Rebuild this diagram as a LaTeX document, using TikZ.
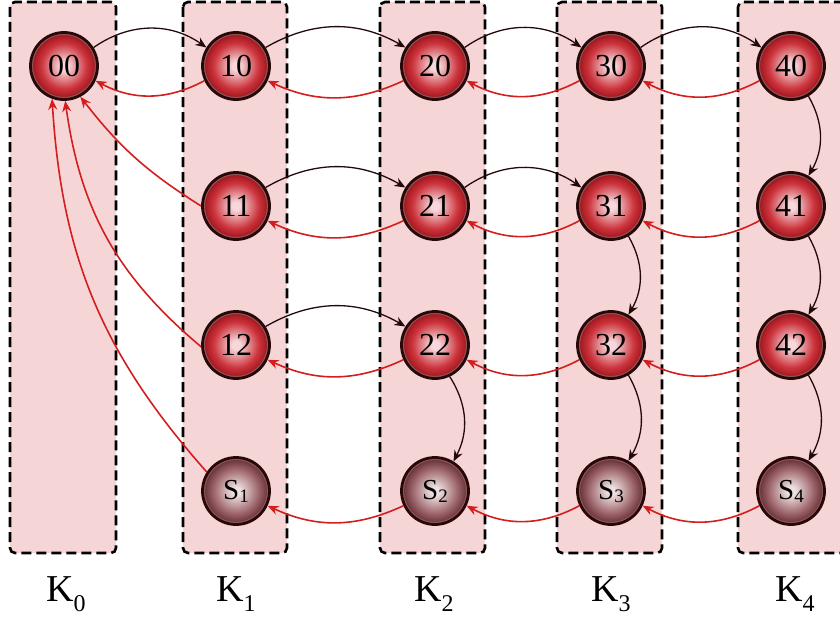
\documentclass[tikz,border=0pt]{standalone}
\usepackage{fontspec}
\setmainfont{Liberation Serif}
\usetikzlibrary{arrows.meta}
\definecolor{boxfill}{RGB}{246,213,215}
\definecolor{ballin}{RGB}{246,216,220}
\definecolor{ballmid}{RGB}{204,52,60}
\definecolor{ballout}{RGB}{160,20,28}
\definecolor{sbin}{RGB}{238,224,224}
\definecolor{sbmid}{RGB}{156,100,106}
\definecolor{sbout}{RGB}{100,48,54}
\definecolor{rimdark}{RGB}{40,8,8}
\definecolor{rimlight}{RGB}{140,86,86}
\definecolor{redarr}{RGB}{212,30,30}
\definecolor{blkarr}{RGB}{35,10,10}
\pgfdeclareradialshading{redball}{\pgfpointorigin}{color(0bp)=(ballin); color(3bp)=(ballin); color(17bp)=(ballmid); color(24bp)=(ballout); color(25bp)=(ballout); color(50bp)=(ballout)}
\pgfdeclareradialshading{sball}{\pgfpointorigin}{color(0bp)=(sbin); color(3bp)=(sbin); color(17bp)=(sbmid); color(24bp)=(sbout); color(25bp)=(sbout); color(50bp)=(sbout)}
\newcommand\ksub[1]{\raisebox{-10pt}{\fontsize{24}{24}\selectfont #1}}
\newcommand\ssub[1]{\raisebox{-3pt}{\fontsize{19}{19}\selectfont #1}}
\tikzset{
  kbox/.style={draw=black, fill=boxfill, line width=2.6pt, dash pattern=on 10pt off 5pt, rounded corners=5pt},
  ballbase/.style={circle, minimum size=67pt, inner sep=0pt, draw=rimdark, line width=2.8pt,
    path picture={\draw[rimlight, line width=1.4pt] (path picture bounding box.center) circle (31.6pt);}},
  rball/.style={ballbase, shading=redball, font=\fontsize{32}{32}\selectfont},
  sballn/.style={ballbase, shading=sball, font=\fontsize{29}{29}\selectfont},
  klabel/.style={font=\fontsize{38}{38}\selectfont},
  blk/.style={draw=blkarr, line width=1.3pt, -{Stealth[length=11pt,width=9pt]}},
  redline/.style={draw=redarr, line width=1.6pt, -{Stealth[length=11pt,width=9pt]}}
}
\begin{document}
\begin{tikzpicture}[x=1pt,y=1pt]
\useasboundingbox (0,0) rectangle (840,-618);
\clip (0,0) rectangle (840,-618);
% boxes
\draw[kbox] (10,-2) rectangle (116,-553);
\draw[kbox] (183,-2) rectangle (287,-553);
\draw[kbox] (380,-2) rectangle (485,-553);
\draw[kbox] (557,-2) rectangle (662,-553);
\draw[kbox] (738,-2) rectangle (846,-553);
% nodes
\node[rball] (n00) at (64,-66) {00};
\node[rball] (n10) at (236,-66) {10};
\node[rball] (n20) at (435,-66) {20};
\node[rball] (n30) at (611,-66) {30};
\node[rball] (n40) at (791,-66) {40};
\node[rball] (n11) at (236,-206) {11};
\node[rball] (n21) at (435,-206) {21};
\node[rball] (n31) at (611,-206) {31};
\node[rball] (n41) at (791,-206) {41};
\node[rball] (n12) at (236,-345) {12};
\node[rball] (n22) at (435,-345) {22};
\node[rball] (n32) at (611,-345) {32};
\node[rball] (n42) at (791,-345) {42};
\node[sballn] (s1) at (236,-491) {S\ssub{1}};
\node[sballn] (s2) at (435,-491) {S\ssub{2}};
\node[sballn] (s3) at (611,-491) {S\ssub{3}};
\node[sballn] (s4) at (791,-491) {S\ssub{4}};
% labels
\node[klabel] (k0) at (66,-594) {K\ksub{0}};
\node[klabel] (k1) at (236,-594) {K\ksub{1}};
\node[klabel] (k2) at (434,-594) {K\ksub{2}};
\node[klabel] (k3) at (611,-594) {K\ksub{3}};
\node[klabel] (k4) at (795,-594) {K\ksub{4}};
% black forward arrows
\draw[blk] (n00.32) to[bend left=35] (n10.148);
\draw[blk] (n10.32) to[bend left=30] (n20.148);
\draw[blk] (n20.32) to[bend left=35] (n30.148);
\draw[blk] (n30.32) to[bend left=35] (n40.148);
\draw[blk] (n11.32) to[bend left=30] (n21.148);
\draw[blk] (n21.32) to[bend left=35] (n31.148);
\draw[blk] (n12.32) to[bend left=30] (n22.148);
% black downward arrows
\draw[blk] (n40.-60) to[bend left=30] (n41.60);
\draw[blk] (n41.-60) to[bend left=30] (n42.60);
\draw[blk] (n31.-60) to[bend left=30] (n32.60);
\draw[blk] (n32.-60) to[bend left=30] (s3.60);
\draw[blk] (n42.-60) to[bend left=30] (s4.60);
\draw[blk] (n22.-65) to[bend left=30] (s2.58);
% red backward arrows
\draw[redline] (n10.205) to[bend left=28] (n00.-25);
\draw[redline] (n20.205) to[bend left=25] (n10.-25);
\draw[redline] (n30.205) to[bend left=28] (n20.-25);
\draw[redline] (n40.205) to[bend left=28] (n30.-25);
\draw[redline] (n21.205) to[bend left=25] (n11.-25);
\draw[redline] (n31.205) to[bend left=28] (n21.-25);
\draw[redline] (n41.205) to[bend left=28] (n31.-25);
\draw[redline] (n22.205) to[bend left=25] (n12.-25);
\draw[redline] (n32.205) to[bend left=28] (n22.-25);
\draw[redline] (n42.205) to[bend left=28] (n32.-25);
\draw[redline] (s2.205) to[bend left=25] (s1.-25);
\draw[redline] (s3.205) to[bend left=28] (s2.-25);
\draw[redline] (s4.205) to[bend left=28] (s3.-25);
% red arrows into 00
\draw[redline] (n11.180) to[bend left=10] (n00.-62);
\draw[redline] (n12.183) to[bend left=21] (n00.-88);
\draw[redline] (s1.147) to[bend left=19] (n00.-110);
\end{tikzpicture}
\end{document}
